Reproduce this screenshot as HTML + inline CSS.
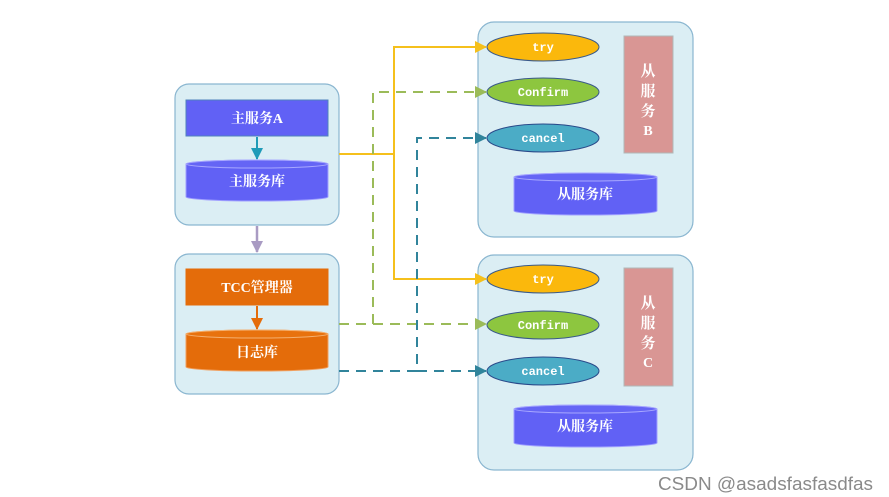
<!DOCTYPE html>
<html><head><meta charset="utf-8"><style>
html,body{margin:0;padding:0;background:#fff;}
svg{display:block;}
text{font-family:"Liberation Serif","Noto Serif CJK SC",serif;font-weight:bold;fill:#fff;}
.m{font-family:"Liberation Mono","Noto Sans CJK SC",monospace;font-weight:bold;}
</style></head><body>
<svg width="889" height="497" viewBox="0 0 889 497" xmlns="http://www.w3.org/2000/svg">
<defs>
<marker id="ay" markerWidth="12" markerHeight="12" refX="11" refY="6" orient="auto" markerUnits="userSpaceOnUse"><path d="M0,0 L12,6 L0,12z" fill="#f5c01c"/></marker>
<marker id="ag" markerWidth="12" markerHeight="12" refX="11" refY="6" orient="auto" markerUnits="userSpaceOnUse"><path d="M0,0 L12,6 L0,12z" fill="#9bbb59"/></marker>
<marker id="at" markerWidth="12" markerHeight="12" refX="11" refY="6" orient="auto" markerUnits="userSpaceOnUse"><path d="M0,0 L12,6 L0,12z" fill="#31849b"/></marker>
<marker id="ab" markerWidth="12" markerHeight="12" refX="11" refY="6" orient="auto" markerUnits="userSpaceOnUse"><path d="M0,0 L12,6 L0,12z" fill="#1f9bb8"/></marker>
<marker id="ap" markerWidth="12" markerHeight="12" refX="11" refY="6" orient="auto" markerUnits="userSpaceOnUse"><path d="M0,0 L12,6 L0,12z" fill="#a99bc3"/></marker>
<marker id="ao" markerWidth="12" markerHeight="12" refX="11" refY="6" orient="auto" markerUnits="userSpaceOnUse"><path d="M0,0 L12,6 L0,12z" fill="#e46c0a"/></marker>
</defs>
<rect x="175" y="84" width="164" height="141" rx="14" fill="#dbeef4" stroke="#8ab6d0" stroke-width="1.2"/>
<rect x="175" y="254" width="164" height="140" rx="14" fill="#dbeef4" stroke="#8ab6d0" stroke-width="1.2"/>
<rect x="186" y="100" width="142" height="36" fill="#6161f5" stroke="#4f81bd" stroke-width="1"/>
<text x="257" y="123" font-size="14" text-anchor="middle">主服务A</text>
<line x1="257" y1="137" x2="257" y2="159" stroke="#1f9bb8" stroke-width="2" marker-end="url(#ab)"/>
<path d="M186,164 L186,197 A71,4 0 0 0 328,197 L328,164 A71,4 0 0 0 186,164z" fill="#6161f5" stroke="#a0a0ff"/>
<ellipse cx="257" cy="164" rx="71" ry="4" fill="#6565f5" stroke="#a8a8ff"/>
<text x="257" y="186" font-size="14" text-anchor="middle">主服务库</text>
<line x1="257" y1="226" x2="257" y2="252" stroke="#a99bc3" stroke-width="2.5" marker-end="url(#ap)"/>
<rect x="186" y="269" width="142" height="36" fill="#e46c0a" stroke="#e46c0a"/>
<text x="257" y="292" font-size="14" text-anchor="middle">TCC管理器</text>
<line x1="257" y1="306" x2="257" y2="329" stroke="#e46c0a" stroke-width="2" marker-end="url(#ao)"/>
<path d="M186,334 L186,367 A71,4 0 0 0 328,367 L328,334 A71,4 0 0 0 186,334z" fill="#e46c0a" stroke="#f0a060"/>
<ellipse cx="257" cy="334" rx="71" ry="4" fill="#e8720e" stroke="#f4b070"/>
<text x="257" y="357" font-size="14" text-anchor="middle">日志库</text>
<rect x="478" y="22" width="215" height="215" rx="16" fill="#dbeef4" stroke="#8ab6d0" stroke-width="1.2"/>
<ellipse cx="543" cy="47" rx="56" ry="14" fill="#fbb80c" stroke="#3a5a8a"/>
<text x="543" y="51" font-size="12" text-anchor="middle" class="m">try</text>
<ellipse cx="543" cy="92" rx="56" ry="14" fill="#8dc63f" stroke="#3a5a8a"/>
<text x="543" y="96" font-size="12" text-anchor="middle" class="m">Confirm</text>
<ellipse cx="543" cy="138" rx="56" ry="14" fill="#4bacc6" stroke="#2a4a8a"/>
<text x="543" y="142" font-size="12" text-anchor="middle" class="m">cancel</text>
<rect x="624" y="36" width="49" height="117" fill="#d99694" stroke="#b0b8b8"/>
<text x="648" y="76" font-size="15" text-anchor="middle" font-weight="normal">从</text>
<text x="648" y="96" font-size="15" text-anchor="middle" font-weight="normal">服</text>
<text x="648" y="116" font-size="15" text-anchor="middle" font-weight="normal">务</text>
<text x="648" y="135" font-size="14" text-anchor="middle" font-weight="normal">B</text>
<path d="M514,177 L514,211 A71,4 0 0 0 657,211 L657,177 A71,4 0 0 0 514,177z" fill="#6161f5" stroke="#a0a0ff"/>
<ellipse cx="585.5" cy="177" rx="71.5" ry="4" fill="#6565f5" stroke="#a8a8ff"/>
<text x="585" y="199" font-size="14" text-anchor="middle">从服务库</text>
<rect x="478" y="255" width="215" height="215" rx="16" fill="#dbeef4" stroke="#8ab6d0" stroke-width="1.2"/>
<ellipse cx="543" cy="279" rx="56" ry="14" fill="#fbb80c" stroke="#3a5a8a"/>
<text x="543" y="283" font-size="12" text-anchor="middle" class="m">try</text>
<ellipse cx="543" cy="325" rx="56" ry="14" fill="#8dc63f" stroke="#3a5a8a"/>
<text x="543" y="329" font-size="12" text-anchor="middle" class="m">Confirm</text>
<ellipse cx="543" cy="371" rx="56" ry="14" fill="#4bacc6" stroke="#2a4a8a"/>
<text x="543" y="375" font-size="12" text-anchor="middle" class="m">cancel</text>
<rect x="624" y="268" width="49" height="118" fill="#d99694" stroke="#b0b8b8"/>
<text x="648" y="308" font-size="15" text-anchor="middle" font-weight="normal">从</text>
<text x="648" y="328" font-size="15" text-anchor="middle" font-weight="normal">服</text>
<text x="648" y="348" font-size="15" text-anchor="middle" font-weight="normal">务</text>
<text x="648" y="367" font-size="14" text-anchor="middle" font-weight="normal">C</text>
<path d="M514,409 L514,443 A71,4 0 0 0 657,443 L657,409 A71,4 0 0 0 514,409z" fill="#6161f5" stroke="#a0a0ff"/>
<ellipse cx="585.5" cy="409" rx="71.5" ry="4" fill="#6565f5" stroke="#a8a8ff"/>
<text x="585" y="431" font-size="14" text-anchor="middle">从服务库</text>
<g fill="none" stroke-width="2">
<path d="M339,154 H394 V47 H486" stroke="#f5c01c" marker-end="url(#ay)"/>
<path d="M394,150 V279 H486" stroke="#f5c01c" marker-end="url(#ay)"/>
<g stroke="#9bbb59" stroke-dasharray="10,7">
<path d="M339,324 H373 V92 H486" marker-end="url(#ag)"/>
<path d="M373,324 H486" marker-end="url(#ag)"/>
</g>
<g stroke="#31849b" stroke-dasharray="10,7">
<path d="M339,371 H417 V138 H486" marker-end="url(#at)"/>
<path d="M417,371 H486" marker-end="url(#at)"/>
</g>
</g>
<text x="658" y="490" font-size="18" textLength="215" lengthAdjust="spacingAndGlyphs" style="font-family:'Liberation Sans',sans-serif;font-weight:normal;fill:#8a8a8a">CSDN @asadsfasfasdfas</text>
</svg>
</body></html>
